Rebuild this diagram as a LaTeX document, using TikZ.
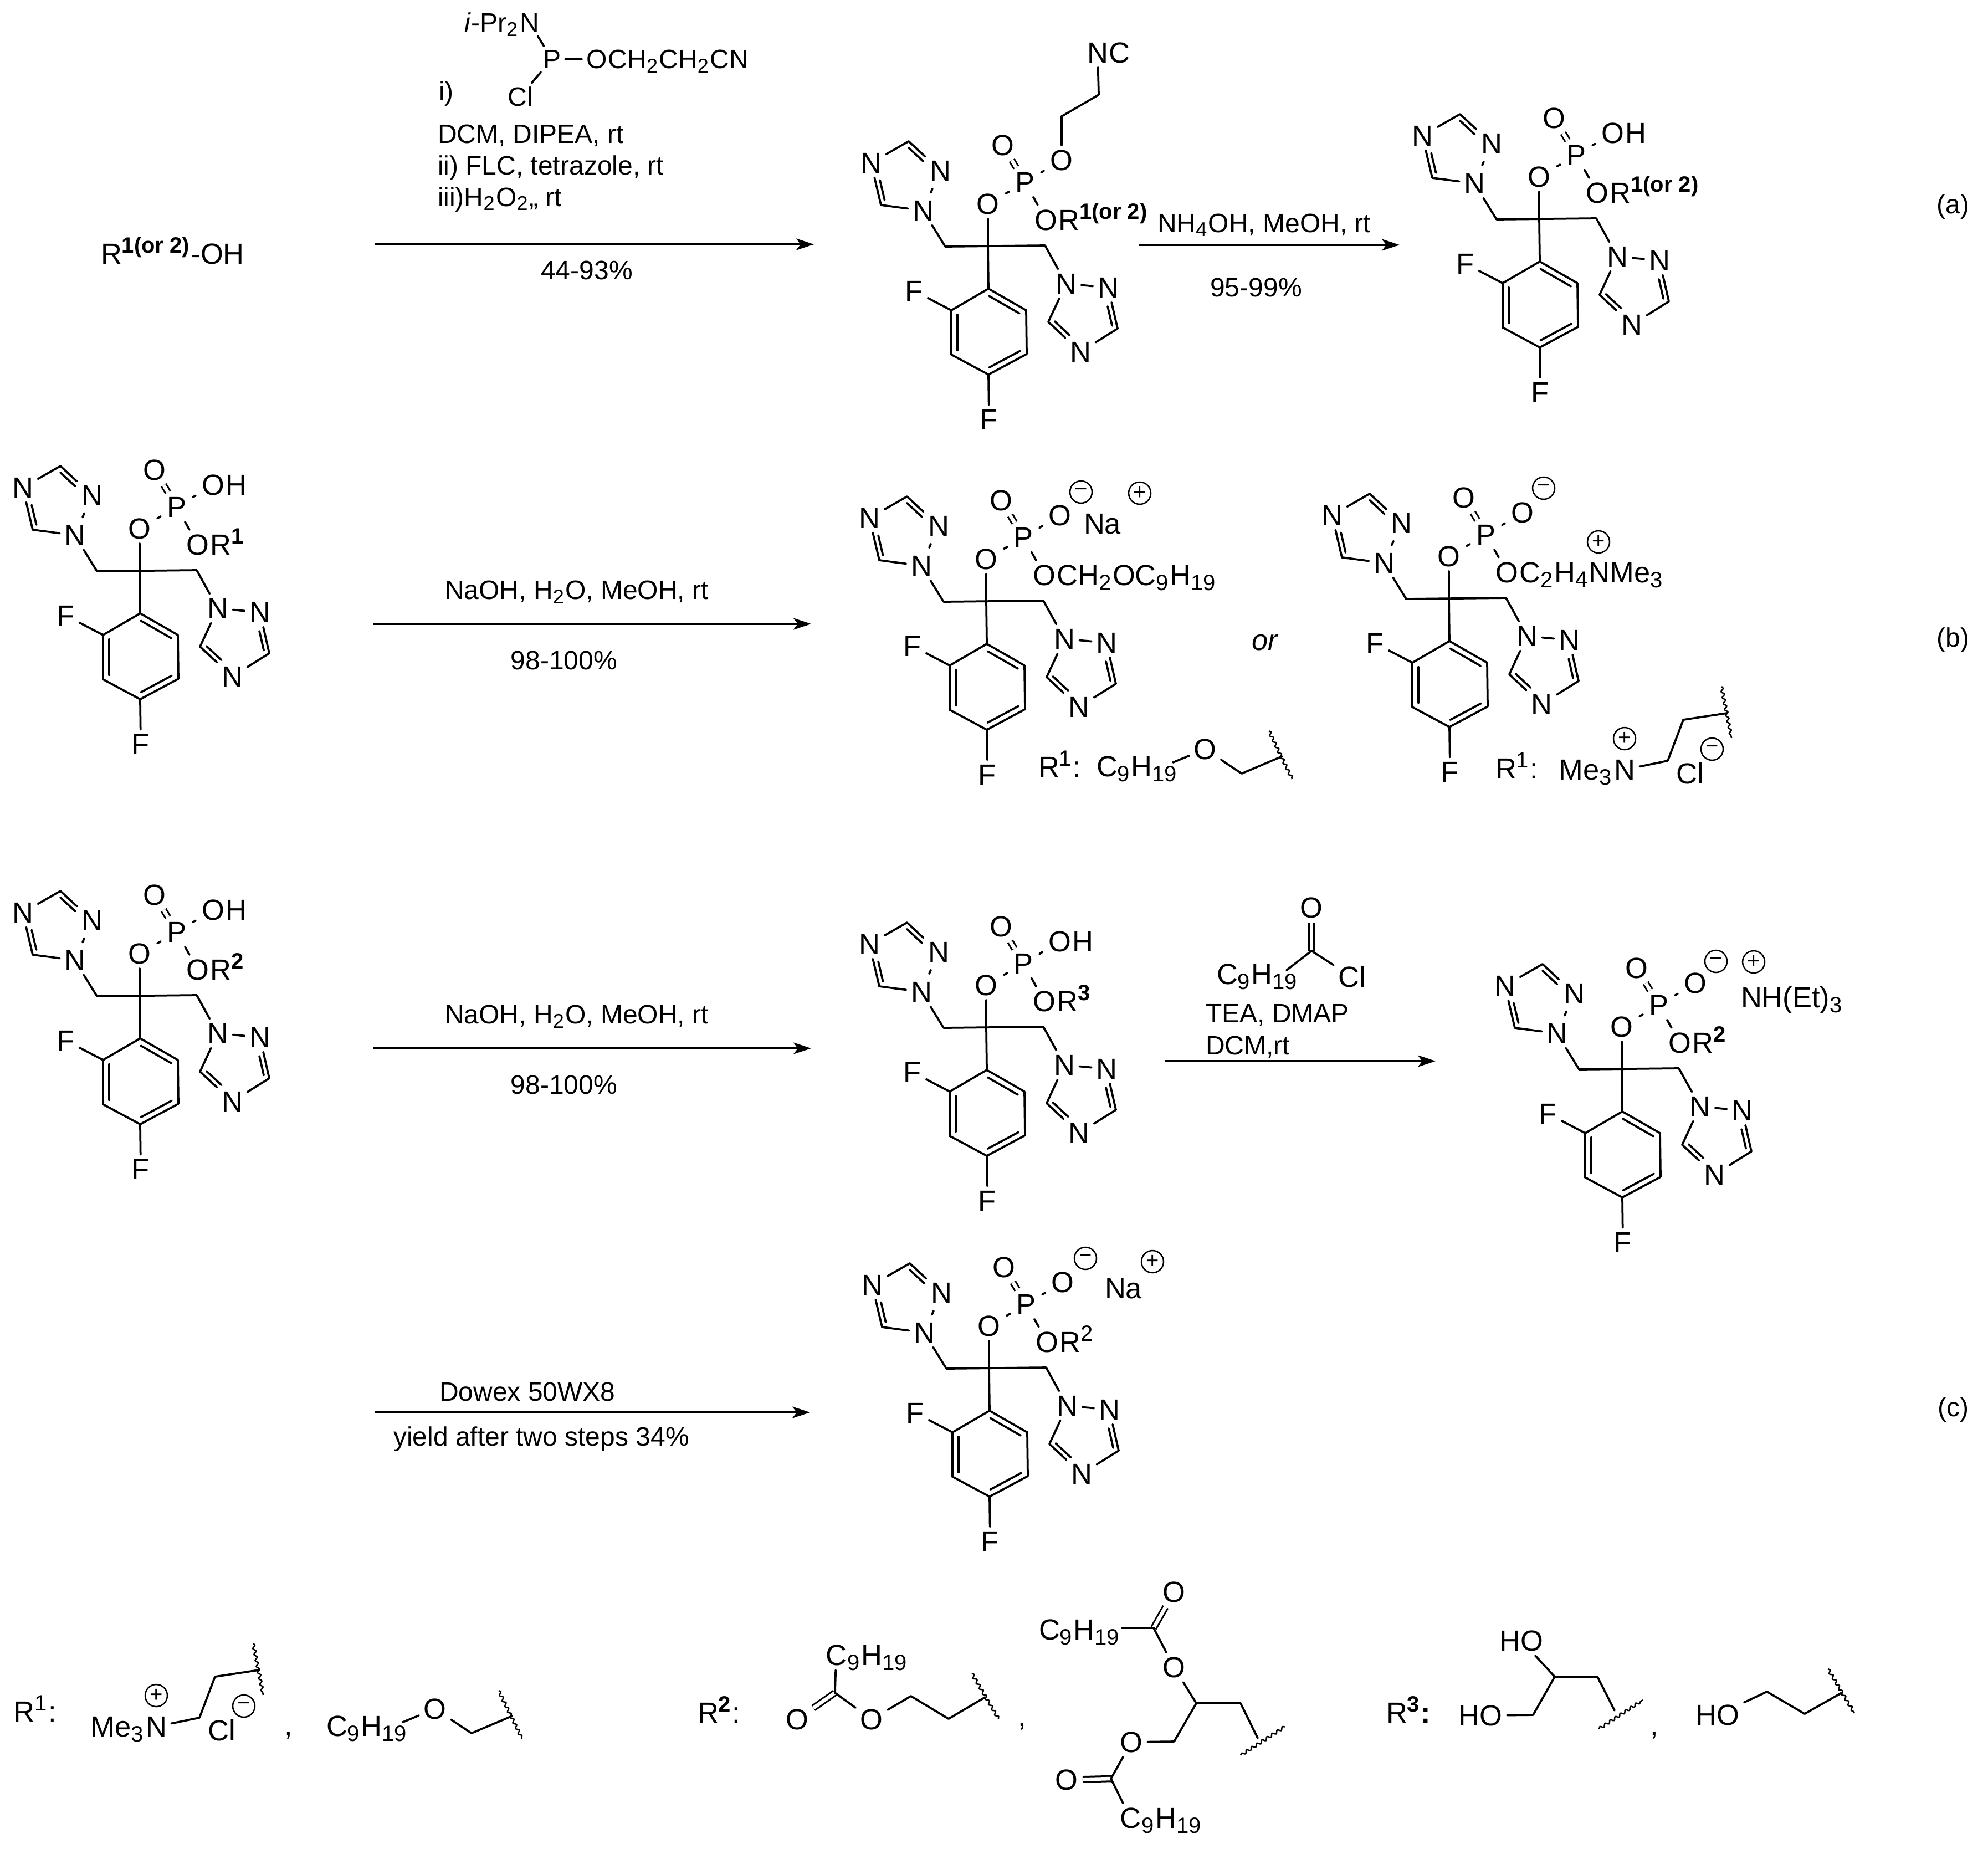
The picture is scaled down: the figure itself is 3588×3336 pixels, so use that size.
\documentclass[tikz,border=0pt]{standalone}
\usepackage{fontspec}
\setmainfont{Liberation Sans}
\usetikzlibrary{arrows.meta}
\usetikzlibrary{calc}
\usetikzlibrary{decorations.pathmorphing}

\DeclareMathSizes{10.5}{10.5}{8}{6}
\DeclareMathSizes{9.6}{9.6}{7.2}{6}
\newcommand{\atomfont}{\fontsize{10.5}{12}\selectfont}
\newcommand{\reagfont}{\fontsize{9.6}{11}\selectfont}
\newcommand{\inbond}[4][.02]{\draw[bond] ($(#2)!#1!(#3)!.16!(#4)$) -- ($(#2)!.98!(#3)!.16!(#4)$);}

\tikzset{
  pics/fluc/.style={code={
    \coordinate (C0) at (0,0);
    \coordinate (Lc) at (-77,1);
    \coordinate (Rc) at (103,-1);
    \coordinate (TL) at (-150,-122);
    \coordinate (TR) at (174,124);
    \coordinate (BZ) at (2,156);
    \node[atom node] (O1) at (0,-76) {O};
    \node[atom node] (P) at (67,-115) {P};
    \node[atom node] (O2) at (27,-182) {O};
    \node[atom node] (O3) at (133,-155) {O};
    \node[atom node] (O4) at (105,-47) {O};
    \node[atom node] (Na) at (-117,-64) {N};
    \node[atom node] (Nb) at (-86,-136) {N};
    \coordinate (Cb) at (-143,-189);
    \node[atom node] (Nc) at (-211,-150) {N};
    \coordinate (Cc) at (-193,-74);
    \node[atom node] (Nd) at (141,68) {N};
    \node[atom node] (Ne) at (217,75) {N};
    \coordinate (Ce) at (234,149);
    \node[atom node] (Nf) at (167,191) {N};
    \coordinate (Cf) at (109,137);
    \coordinate (B1) at (1,77);
    \coordinate (B2) at (69,116);
    \coordinate (B3) at (70,195);
    \coordinate (B4) at (1,232);
    \coordinate (B5) at (-66,196);
    \coordinate (B6) at (-66,116);
    \node[atom node] (F1) at (-133,81) {F};
    \node[atom node] (F2) at (2,313) {F};
    \draw[dbl] (P) -- (O2);
    \path[bond] (P) edge (O4)
      (Lc) edge (Rc) (O1) edge (C0) (C0) edge (B1)
      (Na) edge (Lc) (Rc) edge (Nd)
      (Na) edge (Cc) (Cc) edge (Nc)
      (Nb) edge (Cb) (Cb) edge (Nc)
      (Nd) edge (Ne) (Ne) edge (Ce) (Ce) edge (Nf) (Nf) edge (Cf) (Cf) edge (Nd)
      (B1) edge (B2) (B2) edge (B3) (B3) edge (B4) (B4) edge (B5) (B5) edge (B6) (B6) edge (B1)
      (B6) edge (F1) (B4) edge (F2);
    \path[stub] (Na) edge (Nb);
    \path[pstub] (O1) edge (P) (P) edge (O3);
    \inbond[.42]{Nb}{Cb}{TL}
    \inbond[.42]{Nc}{Cc}{TL}
    \inbond[.42]{Ne}{Ce}{TR}
    \inbond[.42]{Nf}{Cf}{TR}
    \inbond{B1}{B2}{BZ}
    \inbond{B5}{B6}{BZ}
    \inbond{B3}{B4}{BZ}
  }},
  pics/amm/.style={code={
    \node[atom node] (N) at (0,0) {N};
    \node[head node] (Me) at (N.base west) {Me\textsubscript{3}};
    \node[chg node] (Pl) at (0,-56) {+};
    \coordinate (Ua) at (78,-16);
    \coordinate (Ub) at (106,-90);
    \coordinate (Uc) at (185,-102);
    \coordinate (Wa) at (175,-150);
    \coordinate (Wb) at (193,-57);
    \node[atom node] (Cl) at (118,7) {Cl};
    \node[chg node] (Mi) at (158,-37) {−};
    \path[bond] (N) edge (Ua) (Ua) edge (Ub) (Ub) edge (Uc);
    \draw[wavy] (Wa) -- (Wb);
  }},
  pics/eth/.style={code={
    \node[atom node] (O) at (0,0) {O};
    \node[tail node,xshift=1.5pt] (Ch) at (-197,49) {C\textsubscript{9}H\textsubscript{19}};
    \coordinate (Ee) at (-58,24);
    \coordinate (Ua) at (66,44);
    \coordinate (Ub) at (139,13);
    \coordinate (Wa) at (115,-33);
    \coordinate (Wb) at (157,54);
    \path[bond] (Ee) edge (O) (O) edge (Ua) (Ua) edge (Ub);
    \draw[wavy] (Wa) -- (Wb);
  }},
}

\begin{document}
\begin{tikzpicture}[x=.2pt,y=-.2pt,>={Stealth[length=6.4pt,width=4.2pt,inset=1.6pt]},
  bond/.style={line width=.75pt,line cap=round},
  dbl/.style={line width=.6pt,double,double distance=1.3pt},
  stub/.style={bond,shorten <=1.3pt,shorten >=1.3pt},
  pstub/.style={bond,shorten <=.7pt,shorten >=.7pt},
  wavy/.style={line width=.5pt,decorate,decoration={snake,amplitude=.5pt,segment length=2.2pt}},
  rxn/.style={->,line width=.7pt},
  atom node/.style={inner sep=1.5pt,font=\atomfont},
  tail node/.style={anchor=base west,inner sep=0pt,xshift=-1.5pt,font=\atomfont},
  head node/.style={anchor=base east,inner sep=0pt,xshift=1.5pt,font=\atomfont},
  chg node/.style={circle,draw,line width=.5pt,minimum size=8pt,inner sep=0pt,font=\fontsize{8}{8}\selectfont},
  reag node/.style={anchor=base west,inner sep=0pt,font=\reagfont},
  mid node/.style={inner sep=0pt,font=\reagfont}]

  \useasboundingbox (0,0) rectangle (3588,3336);

  % skeletons
  \foreach \n/\x/\y in {Aa/1783/444,Ab/2778/395,Ba/252/1030,Bb/1780/1085,Bc/2615/1080,Ca/252/1797,Cb/1780/1854,Cc/2927/1929,Cd/1785/2469}
    \pic (\n) at (\x,\y) {fluc};

  % arrows
  \foreach \n/\xa/\xb/\y in {Ea/677/1469/441,Eb/2056/2526/442,Ec/673/1464/1126,Ed/673/1464/1892,Ee/2102/2591/1915,Ef/677/1462/2549} {
    \coordinate (\n s) at (\xa,\y);
    \coordinate (\n e) at (\xb,\y);
    \draw[rxn] (\n s) -- (\n e);
  }

  % row a
  \node[tail node,xshift=1.5pt] (Ra) at (181,476) {R\textsuperscript{\textbf{1(or 2)}}-OH};
  \node[mid node] (Pa) at (996,107) {P};
  \node[mid node] (Pn) at (956,41) {N};
  \node[head node,xshift=-1.5pt,font=\reagfont] (Pr) at (Pn.base west) {\textit{i}-Pr\textsubscript{2}};
  \node[mid node] (Pl) at (939,174) {Cl};
  \node[mid node] (Po) at (1077,107) {O};
  \node[reag node] (Pc) at (Po.base east) {CH\textsubscript{2}CH\textsubscript{2}CN};
  \path[bond] (Pa) edge[shorten >=1.5pt,shorten <=1.5pt] (Pn) (Pa) edge[shorten >=1.5pt,shorten <=1.5pt] (Pl) (Pa) edge[shorten >=1.5pt,shorten <=1.5pt] (Po);
  \node[reag node] (Ti) at (791,181) {i)};
  \node[reag node] (Tj) at (789,258) {DCM, DIPEA, rt};
  \node[reag node] (Tk) at (789,315) {ii) FLC, tetrazole, rt};
  \node[reag node] (Tl) at (789,372) {iii)H\textsubscript{2}O\textsubscript{2},, rt};
  \node[mid node] (Tm) at (1059,488) {44-93\%};
  \node[tail node] (AaR) at (AaO4.base east) {R\textsuperscript{\textbf{1(or 2)}}};
  \coordinate (AaU) at (1916,210);
  \coordinate (AaV) at (1983,171);
  \node[atom node] (AaN) at (1981,95) {N};
  \node[tail node] (AaC) at (AaN.base east) {C};
  \path[bond] (AaO3) edge (AaU) (AaU) edge (AaV) (AaV) edge (AaN);
  \node[reag node] (Tn) at (2088,419) {NH\textsubscript{4}OH, MeOH, rt};
  \node[mid node] (To) at (2267,519) {95-99\%};
  \node[tail node] (AbH) at (AbO3.base east) {H};
  \node[tail node] (AbR) at (AbO4.base east) {R\textsuperscript{\textbf{1(or 2)}}};
  \node[mid node] (La) at (3525,373) {(a)};

  % row b
  \node[tail node] (BaH) at (BaO3.base east) {H};
  \node[tail node] (BaR) at (BaO4.base east) {R\textsuperscript{\textbf{1}}};
  \node[mid node] (Tp) at (1041,1069) {NaOH, H\textsubscript{2}O, MeOH, rt};
  \node[mid node] (Tq) at (1018,1192) {98-100\%};
  \node[chg node] (BbM) at ($(BbO3)+(38,-42)$) {−};
  \node[tail node,xshift=1.5pt] (BbN) at (1955,963) {Na};
  \node[chg node] (BbP) at (2057,890) {+};
  \node[tail node] (BbR) at (BbO4.base east) {CH\textsubscript{2}OC\textsubscript{9}H\textsubscript{19}};
  \node[mid node,font=\atomfont\itshape] (Or) at (2283,1160) {or};
  \pic (Ka) at (2175,1352) {eth};
  \node[tail node,xshift=1.5pt] (KaR) at (1873,1402) {R\textsuperscript{1}:};
  \node[chg node] (BcM) at ($(BcO3)+(38,-44)$) {−};
  \node[chg node] (BcP) at (2885,978) {+};
  \node[tail node] (BcR) at (BcO4.base east) {C\textsubscript{2}H\textsubscript{4}NMe\textsubscript{3}};
  \pic (Kb) at (2932,1389) {amm};
  \node[tail node,xshift=1.5pt] (KbR) at (2698,1405) {R\textsuperscript{1}:};
  \node[mid node] (Lb) at (3525,1155) {(b)};

  % row c
  \node[tail node] (CaH) at (CaO3.base east) {H};
  \node[tail node] (CaR) at (CaO4.base east) {R\textsuperscript{\textbf{2}}};
  \node[mid node] (Tr) at (1041,1835) {NaOH, H\textsubscript{2}O, MeOH, rt};
  \node[mid node] (Ts) at (1018,1958) {98-100\%};
  \node[tail node] (CbH) at (CbO3.base east) {H};
  \node[tail node] (CbR) at (CbO4.base east) {R\textsuperscript{\textbf{3}}};
  \coordinate (GaC) at (2367,1716);
  \node[atom node] (GaO) at (2367,1638) {O};
  \node[atom node] (GaL) at (2440,1763) {Cl};
  \node[tail node,xshift=1.5pt] (GaH) at (2195,1776) {C\textsubscript{9}H\textsubscript{19}};
  \coordinate (GaE) at (2322,1751);
  \draw[dbl] (GaC) -- (GaO);
  \path[bond] (GaC) edge (GaL) (GaC) edge (GaE);
  \node[reag node] (Tt) at (2175,1845) {TEA, DMAP};
  \node[reag node] (Tu) at (2175,1903) {DCM,rt};
  \node[chg node] (CcM) at ($(CcO3)+(37,-39)$) {−};
  \node[chg node] (CcP) at (3165,1736) {+};
  \node[tail node,xshift=1.5pt] (CcN) at (3141,1818) {NH(Et)\textsubscript{3}};
  \node[tail node] (CcR) at (CcO4.base east) {R\textsuperscript{\textbf{2}}};
  \node[mid node] (Tv) at (952,2512) {Dowex 50WX8};
  \node[mid node] (Tw) at (977,2597) {yield after two steps 34\%};
  \node[chg node] (CdM) at ($(CdO3)+(41,-43)$) {−};
  \node[tail node,xshift=1.5pt] (CdN) at (1993,2343) {Na};
  \node[chg node] (CdP) at (2080,2277) {+};
  \node[tail node] (CdR) at (CdO4.base east) {R\textsuperscript{2}};
  \node[mid node] (Lc) at (3525,2544) {(c)};

  % R groups
  \node[tail node,xshift=1.5pt] (Sa) at (24,3107) {R\textsuperscript{1}:};
  \pic (Kc) at (282,3116) {amm};
  \node[atom node,anchor=base] (Sb) at (521,3131) {,};
  \pic (Kd) at (785,3084) {eth};

  \node[tail node,xshift=1.5pt] (Sc) at (1258,3109) {R\textsuperscript{\textbf{2}}:};
  \node[atom node] (HaC) at (1509,2987) {C};
  \node[tail node] (HaT) at (HaC.base east) {\textsubscript{9}H\textsubscript{19}};
  \coordinate (HaA) at (1507,3055);
  \node[atom node] (HaO) at (1439,3103) {O};
  \node[atom node] (HaP) at (1573,3103) {O};
  \coordinate (HaB) at (1644,3061);
  \coordinate (HaD) at (1712,3102);
  \coordinate (HaE) at (1778,3063);
  \coordinate (HaW) at (1754,3020);
  \coordinate (HaX) at (1802,3102);
  \draw[dbl] (HaA) -- (HaO);
  \path[bond] (HaA) edge (HaC) (HaA) edge (HaP) (HaP) edge (HaB) (HaB) edge (HaD) (HaD) edge (HaE);
  \draw[wavy] (HaW) -- (HaX);
  \node[atom node,anchor=base] (Sd) at (1845,3115) {,};

  \node[atom node] (IaO) at (2119,2873) {O};
  \coordinate (IaC) at (2082,2938);
  \node[tail node,xshift=1.5pt] (IaH) at (1874,2959) {C\textsubscript{9}H\textsubscript{19}};
  \coordinate (IaE) at (2025,2938);
  \node[atom node] (IaP) at (2119,3009) {O};
  \coordinate (IaM) at (2159,3074);
  \coordinate (IaR) at (2239,3074);
  \coordinate (IaS) at (2270,3137);
  \coordinate (IaW) at (2239,3168);
  \coordinate (IaX) at (2319,3116);
  \coordinate (IaL) at (2119,3143);
  \node[atom node] (IaQ) at (2042,3144) {O};
  \coordinate (IaD) at (2005,3210);
  \node[atom node] (IaT) at (1925,3212) {O};
  \node[atom node] (IaU) at (2040,3281) {C};
  \node[tail node] (IaV) at (IaU.base east) {\textsubscript{9}H\textsubscript{19}};
  \draw[dbl] (IaC) -- (IaO);
  \draw[dbl] (IaD) -- (IaT);
  \path[bond] (IaE) edge (IaC) (IaC) edge (IaP) (IaP) edge (IaM) (IaM) edge (IaR) (IaR) edge (IaS)
    (IaM) edge (IaL) (IaL) edge (IaQ) (IaQ) edge (IaD) (IaD) edge (IaU);
  \draw[wavy] (IaW) -- (IaX);

  \node[tail node,xshift=1.5pt] (Se) at (2501,3109) {R\textsuperscript{\textbf{3}}\textbf{:}};
  \node[atom node] (JaH) at (2746,2961) {HO};
  \node[atom node] (JaL) at (2672,3096) {HO};
  \coordinate (JaM) at (2806,3026);
  \coordinate (JaR) at (2883,3026);
  \coordinate (JaD) at (2767,3095);
  \coordinate (JaS) at (2914,3087);
  \coordinate (JaW) at (2886,3120);
  \coordinate (JaX) at (2965,3068);
  \path[bond] (JaH) edge (JaM) (JaM) edge (JaR) (JaR) edge (JaS) (JaM) edge (JaD) (JaD) edge (JaL);
  \draw[wavy] (JaW) -- (JaX);
  \node[atom node,anchor=base] (Sf) at (2986,3131) {,};
  \node[atom node] (JbH) at (3100,3095) {HO};
  \coordinate (JbA) at (3189,3053);
  \coordinate (JbB) at (3257,3093);
  \coordinate (JbC) at (3324,3055);
  \coordinate (JbW) at (3299,3012);
  \coordinate (JbX) at (3347,3092);
  \path[bond] (JbH) edge (JbA) (JbA) edge (JbB) (JbB) edge (JbC);
  \draw[wavy] (JbW) -- (JbX);
\end{tikzpicture}
\end{document}
